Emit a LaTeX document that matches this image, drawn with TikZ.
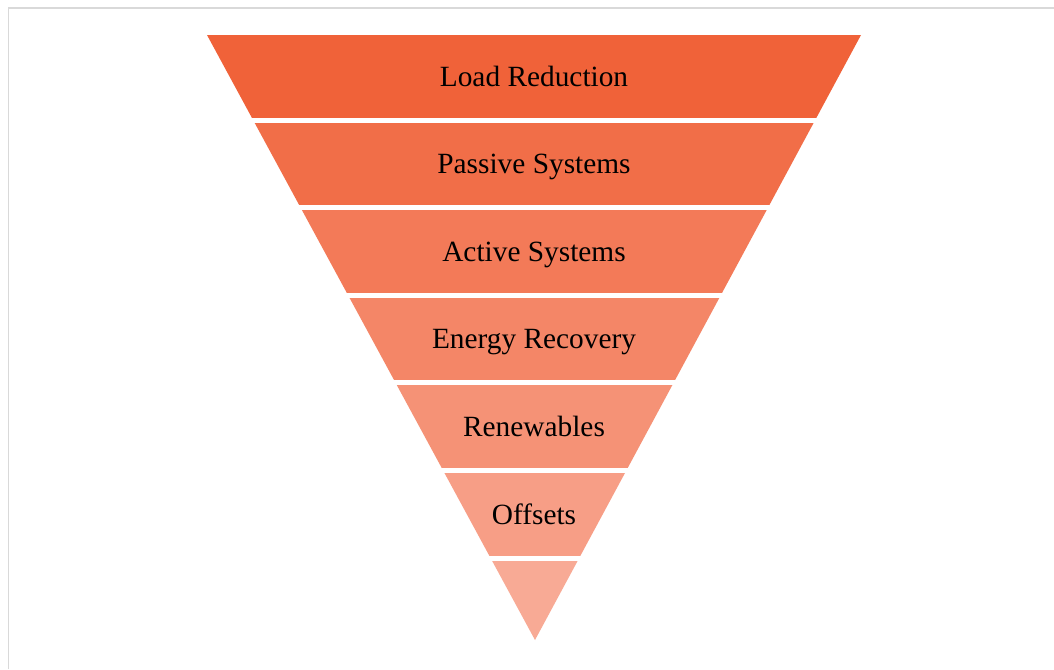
\documentclass[tikz,border=0pt]{standalone}
\usepackage{fontspec}
\setmainfont{Liberation Serif}

\definecolor{topOrange}{RGB}{240,98,57}
\definecolor{tipSalmon}{RGB}{248,170,149}
\definecolor{frameGray}{RGB}{217,217,217}

\tikzset{bandlabel/.style={font=\fontsize{16.7}{18}\selectfont, text=black, text height=0.7em, text depth=0.22em}}

\begin{document}
\begin{tikzpicture}
		\newcommand{\bandStep}{1.752}
		\newcommand{\bandGap}{0.1}
		\newcommand{\topY}{12.68}
		
		\useasboundingbox (0,0) rectangle (21.08,13.38);
		\fill[white] (0,0) rectangle (21.08,13.38);		% background
		\draw[frameGray, line width=1.1pt] (0.17,0) -- (0.17,13.22) -- (21.08,13.22);	% frame
		
		% inverted pyramid bands
		\begin{scope}
		\clip (4.14,\topY) -- (17.22,\topY) -- (10.70,0.58) -- cycle;
		\foreach \i in {0,...,6} {
			\pgfmathsetmacro{\shade}{100*\i/6}
			\fill[tipSalmon!\shade!topOrange] (3,\topY-\i*\bandStep) rectangle (18,\topY-\i*\bandStep-\bandStep+\bandGap);
		}
		\end{scope}
		
		% labels
		\node[bandlabel] (load) at (10.68,\topY-0.5*\bandStep-0.06) {Load Reduction};
		\node[bandlabel] (passive) at (10.68,\topY-1.5*\bandStep-0.06) {Passive Systems};
		\node[bandlabel] (active) at (10.68,\topY-2.5*\bandStep-0.06) {Active Systems};
		\node[bandlabel] (recovery) at (10.68,\topY-3.5*\bandStep-0.06) {Energy Recovery};
		\node[bandlabel] (renew) at (10.68,\topY-4.5*\bandStep-0.06) {Renewables};
		\node[bandlabel] (offsets) at (10.68,\topY-5.5*\bandStep-0.06) {Offsets};
\end{tikzpicture}
\end{document}
